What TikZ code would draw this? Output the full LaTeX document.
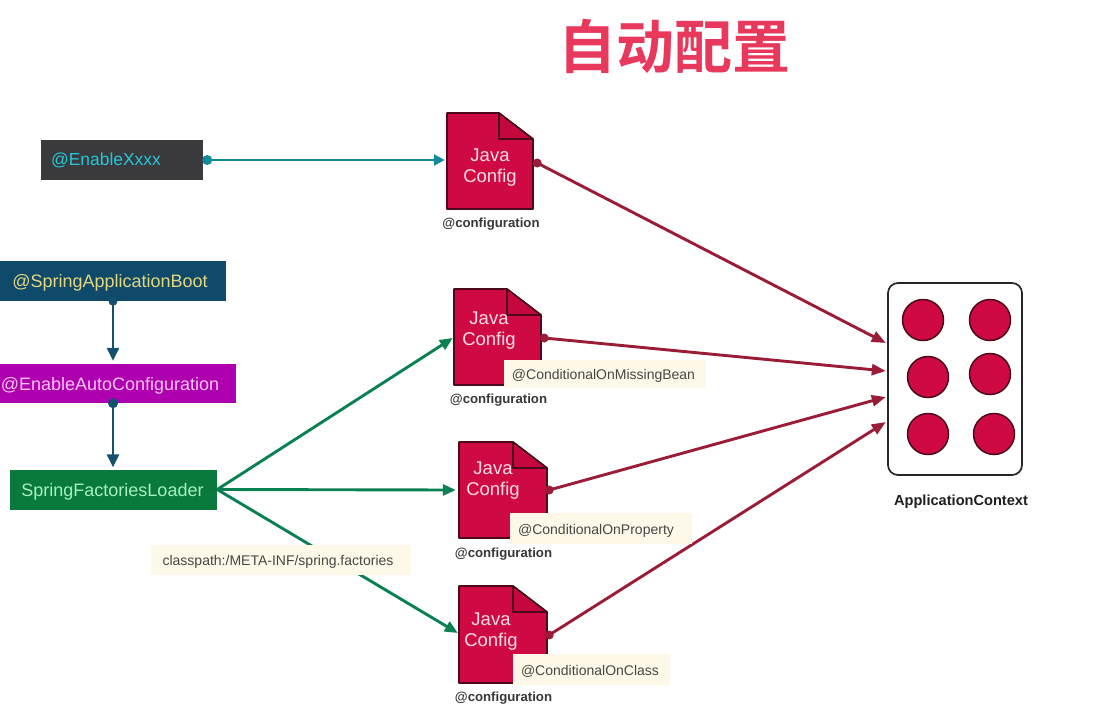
\documentclass[tikz,border=0pt]{standalone}
\usepackage{fontspec}
\setmainfont{Liberation Sans}
\newfontfamily\cjk{Noto Sans CJK SC}[BoldFont={Noto Sans CJK SC Bold}]
\usetikzlibrary{arrows.meta}
\definecolor{titlered}{HTML}{E8385C}
\definecolor{docred}{HTML}{CF0A42}
\definecolor{foldred}{HTML}{C4083E}
\definecolor{docedge}{HTML}{4A0A1C}
\definecolor{wine}{HTML}{9A1C36}
\definecolor{tealline}{HTML}{14899A}
\definecolor{navy}{HTML}{15506F}
\definecolor{greenline}{HTML}{0B8050}
\definecolor{tagbg}{HTML}{FDF8E7}
\definecolor{xxxxbg}{HTML}{3A3A3C}
\definecolor{xxxxfg}{HTML}{22C8DC}
\definecolor{bootbg}{HTML}{0F4A6B}
\definecolor{bootfg}{HTML}{E4D67C}
\definecolor{autobg}{HTML}{AE00AE}
\definecolor{autofg}{HTML}{F6C4F0}
\definecolor{loadbg}{HTML}{0A7A3C}
\definecolor{loadfg}{HTML}{A6F0C0}
\definecolor{doctext}{HTML}{FFDDE8}
\tikzset{
  x=1pt,y=-1pt,
  banner/.style={inner sep=0pt,font=\fontsize{18}{20}\selectfont},
  docnode/.style={inner sep=0pt,minimum width=86pt,minimum height=96pt,align=center,text=doctext,font=\fontsize{18.5}{21}\selectfont},
  tagbox/.style={fill=tagbg,inner sep=0pt,text=black!72,font=\fontsize{14}{15}\selectfont},
  caption/.style={inner sep=0pt,text=black!78,font=\bfseries\fontsize{13.2}{15}\selectfont},
  ctxdot/.style={circle,draw=docedge,line width=1.5pt,fill=docred,minimum size=41pt,inner sep=0pt},
  tealarrow/.style={draw=tealline,line width=2.6pt,-{Triangle[length=11pt,width=11pt]}},
  navyarrow/.style={draw=navy,line width=2.8pt,-{Triangle[length=13pt,width=12pt]}},
  greenarrow/.style={draw=greenline,line width=2.9pt,-{Triangle[length=13pt,width=11pt]}},
  redarrow/.style={draw=wine,line width=2.9pt,-{Triangle[length=14pt,width=11pt]}}
}
\newcommand{\txt}[3]{\hspace*{#1}\raisebox{#2}[0pt][0pt]{#3}}
\newcommand{\javadoc}[4]{%
  \pgfmathsetmacro{\fx}{#3-34}
  \pgfmathsetmacro{\fy}{#2+26}
  \path[fill=docred,draw=docedge,line width=1.6pt,line join=round]
    (#1,#2) -- (\fx,#2) -- (#3,\fy) -- (#3,#4) -- (#1,#4) -- cycle;
  \path[fill=foldred,draw=docedge,line width=1.6pt,line join=round]
    (\fx,#2) -- (#3,\fy) -- (\fx,\fy) -- cycle;
}
\begin{document}
\begin{tikzpicture}
\useasboundingbox[fill=white] (0,0) rectangle (1102,707);

\node[inner sep=0pt,text=titlered,font=\cjk\bfseries\fontsize{58}{60}\selectfont] (title) at (674,46) {自动配置};

\node[banner,fill=xxxxbg,text=xxxxfg,font=\fontsize{17.4}{20}\selectfont,minimum width=162pt,minimum height=40pt] (xxxx) at (122,160) {\txt{-32pt}{-5.5pt}{@EnableXxxx}};
\node[banner,fill=bootbg,text=bootfg,minimum width=226pt,minimum height=40pt] (boot) at (113,281) {\txt{-6pt}{-6.5pt}{@SpringApplicationBoot}};
\node[banner,fill=autobg,text=autofg,minimum width=236pt,minimum height=39pt] (auto) at (118,383.5) {\txt{-16pt}{-6.5pt}{@EnableAutoConfiguration}};
\node[banner,fill=loadbg,text=loadfg,minimum width=207pt,minimum height=40pt] (loader) at (113.5,489.5) {\txt{-2pt}{-6.5pt}{SpringFactoriesLoader}};

\javadoc{447}{113}{533}{209}
\javadoc{454}{289}{541}{385}
\javadoc{459}{442}{547}{538}
\javadoc{459}{586}{547}{683}
\node[docnode] (d1) at (490,168) {Java\\Config};
\node[docnode] (d2) at (489,331) {Java\\Config};
\node[docnode] (d3) at (493,481) {Java\\Config};
\node[docnode] (d4) at (491,632) {Java\\Config};

\node[caption] (c1) at (491,224) {@configuration};
\node[caption] (c2) at (498.5,400) {@configuration};
\node[caption] (c3) at (503.5,554) {@configuration};
\node[caption] (c4) at (503.5,698) {@configuration};

\draw[rounded corners=10pt,draw=black!85,line width=1.7pt,fill=white] (888,283) rectangle (1022,475);
\node[inner sep=0pt,minimum width=134pt,minimum height=192pt] (app) at (955,379) {};
\node[ctxdot] (o1) at (923,320) {};
\node[ctxdot] (o2) at (990,320) {};
\node[ctxdot] (o3) at (928,377) {};
\node[ctxdot] (o4) at (990,374) {};
\node[ctxdot] (o5) at (928,434) {};
\node[ctxdot] (o6) at (994,434) {};
\node[caption,text=black!88,font=\bfseries\fontsize{14.6}{15}\selectfont] (ctx) at (961,502) {ApplicationContext};

\coordinate (xs) at ([xshift=4pt]xxxx.east);
\coordinate (bs) at (boot.south);
\coordinate (as) at ([xshift=-5pt]auto.south);
\coordinate (r1) at ([xshift=4pt,yshift=5pt]d1.east);
\coordinate (r2) at ([xshift=12pt,yshift=-7pt]d2.east);
\coordinate (r3) at ([xshift=13pt,yshift=-9pt]d3.east);
\coordinate (r4) at ([xshift=15pt,yshift=-3pt]d4.east);
\coordinate (g0) at (loader.east);

\draw[tealarrow] (xs) -- ([xshift=-2pt,yshift=8pt]d1.west);
\draw[navyarrow] (bs) -- ([yshift=3pt]auto.north -| bs);
\draw[navyarrow] (as) -- ([yshift=2pt]loader.north -| as);
\draw[greenarrow] (g0) -- ([xshift=7pt,yshift=-7pt]d2.west);
\draw[greenarrow] (g0) -- ([xshift=6pt,yshift=-9pt]d3.west);
\draw[greenarrow] (g0) -- ([xshift=10pt,yshift=-1pt]d4.west);
\draw[redarrow] (r1) -- ([xshift=-2pt,yshift=36pt]app.west);
\draw[redarrow] (r2) -- ([xshift=-2pt,yshift=8pt]app.west);
\draw[redarrow] (r3) -- ([xshift=-2pt,yshift=-18pt]app.west);
\draw[redarrow] (r4) -- ([xshift=-2pt,yshift=-43pt]app.west);
\fill[tealline] (xs) circle (5pt);
\fill[navy] (bs) circle (4.5pt);
\fill[navy] (as) circle (5pt);
\foreach \p in {r1,r2,r3,r4} \fill[wine] (\p) circle (4.5pt);

\node[tagbox,minimum width=202pt,minimum height=28pt] (t1) at (605,374) {\txt{-3pt}{-5.7pt}{@ConditionalOnMissingBean}};
\node[tagbox,minimum width=182pt,minimum height=31pt] (t2) at (601,528.5) {\txt{-10pt}{-5.7pt}{@ConditionalOnProperty}};
\node[tagbox,minimum width=157pt,minimum height=31pt] (t3) at (591.5,669.5) {\txt{-3pt}{-5.7pt}{@ConditionalOnClass}};
\node[tagbox,minimum width=260pt,minimum height=30pt] (t4) at (281,560) {\txt{-6pt}{-5.7pt}{classpath:/META-INF/spring.factories}};
\end{tikzpicture}
\end{document}
